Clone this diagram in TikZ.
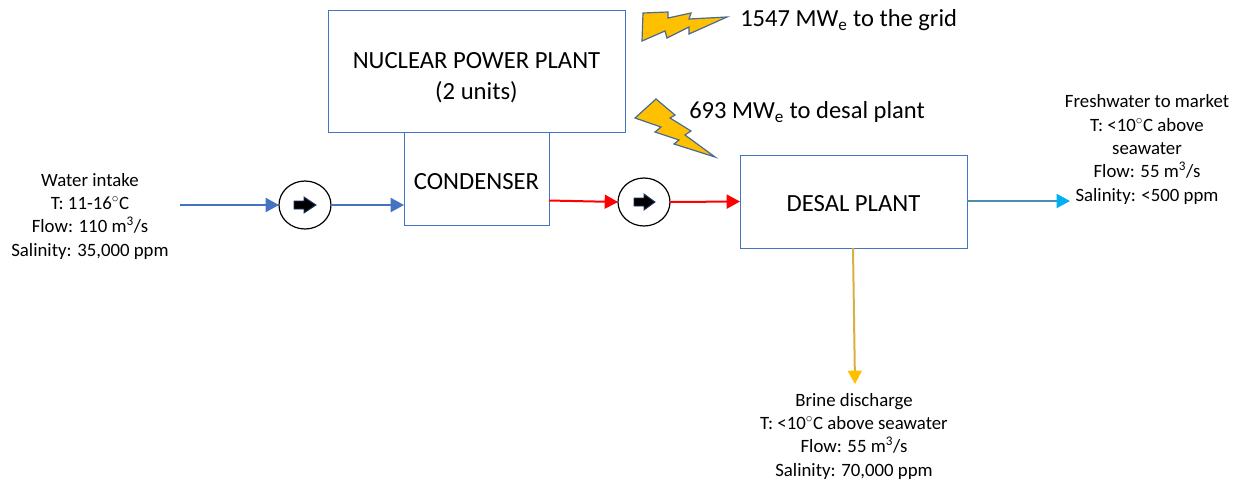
\documentclass[tikz,border=0pt]{standalone}
\usepackage{fontspec}
\setmainfont{Carlito}
\usetikzlibrary{arrows.meta,shapes.geometric}
\definecolor{boxblue}{HTML}{4472C4}
\definecolor{gold}{HTML}{FFC000}
\definecolor{boltline}{HTML}{4A6A94}
\definecolor{sky}{HTML}{00B0F0}
\definecolor{teal2}{HTML}{4A8FB0}
\definecolor{goldline}{HTML}{D8B040}
\definecolor{pumpline}{HTML}{1F3864}
\newcommand{\dgr}{\ensuremath{^{\circ}}}
\newcommand{\lowe}{\textsubscript{e}}
\tikzset{
  x=0.75pt,y=-0.75pt,
  plant/.style={draw=boxblue,line width=0.75pt,fill=white,inner sep=0pt,outer sep=0pt,align=center,font=\fontsize{18.5}{23.25}\selectfont},
  pump/.style={draw=black,line width=0.9pt,fill=white,ellipse,minimum width=39pt,minimum height=36pt,inner sep=0pt,outer sep=0pt},
  info/.style={align=center,font=\fontsize{14.1}{17.5}\selectfont,inner sep=0pt},
  big/.style={anchor=west,inner sep=0pt,font=\fontsize{18.4}{21}\selectfont},
  flow/.style={line width=1.5pt,-{Triangle[length=10pt,width=10.5pt]}},
  bolt/.style={draw=boltline,fill=gold,line width=0.9pt,line join=miter},
  pumpicon/.style={draw=pumpline,fill=black,line width=0.7pt}
}
\begin{document}
\begin{tikzpicture}
\useasboundingbox (0,0) rectangle (1240,480);
\node[plant,minimum width=108.75pt,minimum height=69.75pt,anchor=north west] (cond) at (404,132) {\rule{0pt}{17.1pt}CONDENSER};
\node[plant,minimum width=222.75pt,minimum height=91.5pt,anchor=north west] (npp) at (328,10) {\rule{0pt}{21.65pt}NUCLEAR POWER PLANT\\(2 units)};
\node[plant,minimum width=170.25pt,minimum height=69.75pt,anchor=north west] (desal) at (740,155) {\rule{0pt}{15.7pt}DESAL PLANT};
\node[pump] (p1) at (305,205) {};
\node[pump] (p2) at (644,202) {};
\draw[pumpicon] (294,201) -- (304,201) -- (304,197) -- (316,205) -- (304,213) -- (304,209) -- (294,209) -- cycle;
\draw[pumpicon] (634,198) -- (644,198) -- (644,194) -- (655,202) -- (644,210) -- (644,206) -- (634,206) -- cycle;
\coordinate (in) at (180,205);
\coordinate (cin) at (404,205);
\coordinate (cout) at (549,200.5);
\coordinate (dout) at (967,201);
\coordinate (fresh) at (1070,201);
\coordinate (dbot) at (853,248);
\coordinate (brine) at (855,384);
\draw[flow,draw=boxblue,fill=boxblue] (in) -- (p1.west);
\draw[flow,draw=boxblue,fill=boxblue] (p1.east) -- (cin);
\draw[flow,draw=red,fill=red] (cout) -- (p2.west);
\draw[flow,draw=red,fill=red] (p2.east) -- (desal.west);
\draw[line width=1.5pt,teal2,-{Triangle[length=10pt,width=10.5pt,sky,fill=sky]}] (dout) -- (fresh);
\draw[line width=1.5pt,goldline,-{Triangle[length=10pt,width=10.5pt,gold,fill=gold]}] (dbot) -- (brine);
\draw[bolt] (643,13) -- (668,12) -- (668,18) -- (691,13) -- (689,19) -- (727,17) -- (689,34) -- (689,27) -- (667,38) -- (665,31) -- (642,41) -- cycle;
\draw[bolt] (656,99) -- (675,115) -- (670,118) -- (691,131) -- (685,135) -- (715,157) -- (674,144) -- (679,140) -- (655,132) -- (661,127) -- (635,118) -- cycle;
\node[big] (grid) at (740,20.5) {1547 MW\lowe{} to the grid};
\node[big] (toDesal) at (689,112) {693 MW\lowe{} to desal plant};
\node[info] (intake) at (90,216) {Water intake\\T: 11-16\dgr C\\Flow: 110 m\textsuperscript{3}/s\\Salinity: 35,000 ppm};
\node[info] (market) at (1147,149.5) {Freshwater to market\\T: <10\dgr C above\\seawater\\Flow: 55 m\textsuperscript{3}/s\\Salinity: <500 ppm};
\node[info] (discharge) at (854,436) {Brine discharge\\T: <10\dgr C above seawater\\Flow: 55 m\textsuperscript{3}/s\\Salinity: 70,000 ppm};
\end{tikzpicture}
\end{document}
